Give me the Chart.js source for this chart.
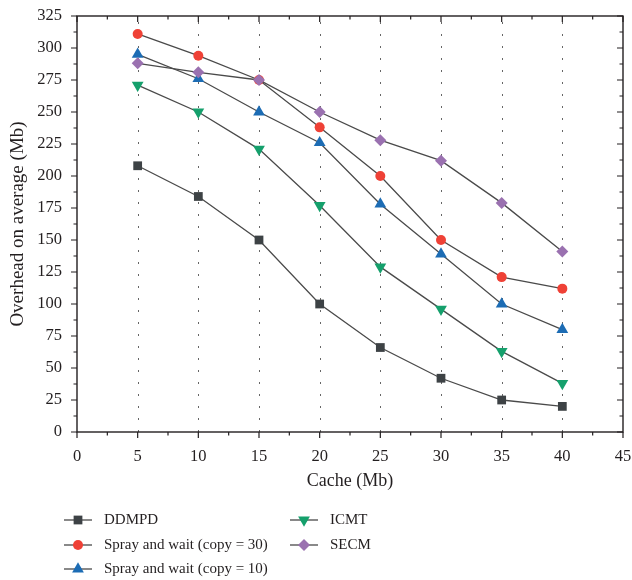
<!DOCTYPE html>
<html lang="en">
<head>
    <meta charset="UTF-8">
    <title>Overhead vs cache</title>
    <script src="https://cdn.jsdelivr.net/npm/chart.js"></script>
    <style>
        html, body { margin: 0; padding: 0; background: #fff; }
        #wrap { width: 632px; height: 580px; }
    </style>
</head>
<body>
    <div id="wrap"><canvas id="myChart" width="632" height="580"></canvas></div>
    <script>
        const cacheSizes = [5, 10, 15, 20, 25, 30, 35, 40];
        const ddmpd    = [208, 184, 150, 100, 66, 42, 25, 20];
        const spray30  = [311, 294, 275, 238, 200, 150, 121, 112];
        const spray10  = [295, 276, 250, 226, 178, 139, 100, 80];
        const icmt     = [271, 250, 221, 177, 129, 96, 63, 38];
        const secm     = [288, 281, 275, 250, 228, 212, 179, 141];

        const xTicks = [0, 5, 10, 15, 20, 25, 30, 35, 40, 45];
        const yTicks = [0, 25, 50, 75, 100, 125, 150, 175, 200, 225, 250, 275, 300, 325];

        const FONT = '"Liberation Serif", "Times New Roman", serif';
        const INK = '#231f20';
        const LINE = '#4a4a4a';

        const series = [
            { label: 'DDMPD', data: ddmpd, color: '#3d4245', style: 'rect', radius: 6.2, rotation: 0 },
            { label: 'Spray and wait (copy = 30)', data: spray30, color: '#ef4136', style: 'circle', radius: 5, rotation: 0 },
            { label: 'Spray and wait (copy = 10)', data: spray10, color: '#1c6cb4', style: 'triangle', radius: 6.8, rotation: 0 },
            { label: 'ICMT', data: icmt, color: '#15a06c', style: 'triangle', radius: 6.8, rotation: 180 },
            { label: 'SECM', data: secm, color: '#9a71b0', style: 'rectRot', radius: 6, rotation: 0 }
        ];

        function toPoints(values) {
            return cacheSizes.map((x, i) => ({ x: x, y: values[i] }));
        }

        // small marker painter for the legend
        function drawMarker(ctx, style, x, y, r, rot, color) {
            ctx.save();
            ctx.fillStyle = color;
            ctx.translate(x, y);
            ctx.rotate(rot * Math.PI / 180);
            ctx.beginPath();
            if (style === 'circle') {
                ctx.arc(0, 0, r, 0, Math.PI * 2);
            } else if (style === 'rect') {
                const s = r * Math.SQRT1_2;
                ctx.rect(-s, -s, 2 * s, 2 * s);
            } else if (style === 'rectRot') {
                ctx.moveTo(0, -r); ctx.lineTo(r, 0); ctx.lineTo(0, r); ctx.lineTo(-r, 0);
            } else if (style === 'triangle') {
                const edge = 3 * r / Math.sqrt(3);
                const h = edge * Math.sqrt(3) / 2;
                ctx.moveTo(0, -h * 2 / 3);
                ctx.lineTo(edge / 2, h / 3);
                ctx.lineTo(-edge / 2, h / 3);
            }
            ctx.closePath();
            ctx.fill();
            ctx.restore();
        }

        const framePlugin = {
            id: 'frame',
            beforeDatasetsDraw(chart) {
                const ctx = chart.ctx;
                const area = chart.chartArea;
                const xs = chart.scales.x;
                ctx.save();
                ctx.strokeStyle = '#666';
                ctx.lineWidth = 1;
                ctx.setLineDash([2, 10]);
                for (let v = 5; v <= 40; v += 5) {
                    const px = Math.round(xs.getPixelForValue(v)) + 0.5;
                    ctx.beginPath();
                    ctx.moveTo(px, area.bottom);
                    ctx.lineTo(px, area.top);
                    ctx.stroke();
                }
                ctx.restore();
            },
            afterDraw(chart) {
                const ctx = chart.ctx;
                const a = chart.chartArea;
                const xs = chart.scales.x;
                const ys = chart.scales.y;
                ctx.save();
                ctx.strokeStyle = INK;
                ctx.lineWidth = 1.4;
                ctx.strokeRect(a.left, a.top, a.right - a.left, a.bottom - a.top);

                ctx.lineWidth = 1.2;
                ctx.beginPath();
                // x ticks: outward at the bottom, inward at the top
                for (let v = 0; v <= 45; v += 2.5) {
                    const px = xs.getPixelForValue(v);
                    const len = (v % 5 === 0) ? 6 : 3.5;
                    ctx.moveTo(px, a.bottom); ctx.lineTo(px, a.bottom + len);
                    ctx.moveTo(px, a.top); ctx.lineTo(px, a.top + len);
                }
                // y ticks: outward on the left, inward on the right
                for (let v = 0; v <= 325; v += 12.5) {
                    const py = ys.getPixelForValue(v);
                    const len = (v % 25 === 0) ? 6 : 3.5;
                    ctx.moveTo(a.left, py); ctx.lineTo(a.left - len, py);
                    ctx.moveTo(a.right, py); ctx.lineTo(a.right - len, py);
                }
                ctx.stroke();

                // legend in two columns below the axis
                const cols = [{ x0: 64, x1: 92, tx: 104 }, { x0: 290, x1: 318, tx: 330 }];
                const rows = [520, 545, 569];
                ctx.font = '15px ' + FONT;
                ctx.textBaseline = 'middle';
                ctx.fillStyle = INK;
                series.forEach((s, i) => {
                    const c = cols[i < 3 ? 0 : 1];
                    const y = rows[i < 3 ? i : i - 3];
                    ctx.strokeStyle = LINE;
                    ctx.lineWidth = 1.3;
                    ctx.beginPath();
                    ctx.moveTo(c.x0, y); ctx.lineTo(c.x1, y);
                    ctx.stroke();
                    drawMarker(ctx, s.style, (c.x0 + c.x1) / 2, y, s.radius, s.rotation, s.color);
                    ctx.fillStyle = INK;
                    ctx.fillText(s.label, c.tx, y);
                });
                ctx.restore();
            }
        };

        const ctx = document.getElementById('myChart').getContext('2d');
        const myChart = new Chart(ctx, {
            type: 'line',
            data: {
                datasets: series.map((s, i) => ({
                    label: s.label,
                    data: toPoints(s.data),
                    borderColor: LINE,
                    borderWidth: 1.3,
                    pointStyle: s.style,
                    pointRadius: s.radius,
                    pointRotation: s.rotation,
                    pointBackgroundColor: s.color,
                    pointBorderColor: s.color,
                    pointBorderWidth: 0,
                    tension: 0,
                    order: 5 - i
                }))
            },
            options: {
                responsive: false,
                animation: false,
                layout: { padding: { top: 16, right: 9, left: 0, bottom: 88 } },
                plugins: {
                    legend: { display: false },
                    tooltip: { enabled: false }
                },
                scales: {
                    x: {
                        type: 'linear',
                        min: 0,
                        max: 45,
                        afterBuildTicks: scale => { scale.ticks = xTicks.map(v => ({ value: v })); },
                        grid: { display: false, drawTicks: false },
                        border: { display: false },
                        ticks: { color: INK, font: { family: FONT, size: 16.5 }, padding: 15, maxRotation: 0 },
                        title: { display: true, text: 'Cache (Mb)', color: INK, font: { family: FONT, size: 18 }, padding: 0 },
                        afterFit: scale => {
                            scale.height = 60;
                            scale.paddingLeft = 0;
                            scale.paddingRight = 0;
                        }
                    },
                    y: {
                        type: 'linear',
                        min: 0,
                        max: 325,
                        afterBuildTicks: scale => { scale.ticks = yTicks.map(v => ({ value: v })); },
                        grid: { display: false, drawTicks: false },
                        border: { display: false },
                        ticks: { color: INK, font: { family: FONT, size: 16.5 }, padding: 15 },
                        title: { display: true, text: 'Overhead on average (Mb)', color: INK, font: { family: FONT, size: 19 }, padding: { top: 7, bottom: 0 } },
                        afterFit: scale => {
                            scale.width = 77;
                            scale.paddingTop = 0;
                            scale.paddingBottom = 0;
                        }
                    }
                }
            },
            plugins: [framePlugin]
        });
    </script>
</body>
</html>
